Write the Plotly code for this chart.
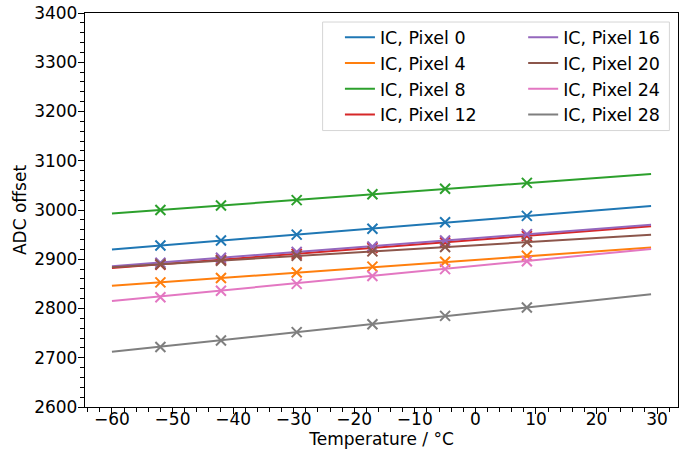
import plotly.graph_objects as go

# ---- data ----
temps = [-52, -42, -29.5, -17, -5, 8.5]          # measurement temperatures (°C)
fit_temps = [-60, 29]                             # extent of the linear fits

pixels = ["IC, Pixel 0", "IC, Pixel 4", "IC, Pixel 8", "IC, Pixel 12",
          "IC, Pixel 16", "IC, Pixel 20", "IC, Pixel 24", "IC, Pixel 28"]

pix0 = [2928, 2938, 2950, 2962, 2975, 2988]
pix4 = [2853, 2862, 2873, 2885, 2895, 2907]
pix8 = [3000, 3009, 3020, 3032, 3043, 3055]
pix12 = [2889, 2899, 2911, 2923, 2934, 2947]
pix16 = [2893, 2903, 2915, 2926, 2938, 2951]
pix20 = [2890, 2897, 2907, 2916, 2925, 2935]
pix24 = [2823, 2836, 2850, 2866, 2880, 2896]
pix28 = [2722, 2735, 2752, 2768, 2785, 2802]

fit0 = [2920, 3008]
fit4 = [2846, 2924]
fit8 = [2993, 3073]
fit12 = [2882, 2967]
fit16 = [2886, 2970]
fit20 = [2884, 2950]
fit24 = [2815, 2921]
fit28 = [2712, 2829]

measured = [pix0, pix4, pix8, pix12, pix16, pix20, pix24, pix28]
fits = [fit0, fit4, fit8, fit12, fit16, fit20, fit24, fit28]

colors = ["#1f77b4", "#ff7f0e", "#2ca02c", "#d62728",
          "#9467bd", "#8c564b", "#e377c2", "#7f7f7f"]

fig = go.Figure()
for i, (name, ys, fy, c) in enumerate(zip(pixels, measured, fits, colors)):
    fig.add_trace(go.Scatter(
        x=fit_temps, y=fy, mode="lines", name=name,
        line=dict(color=c, width=2),
        legend="legend" if i < 4 else "legend2",
    ))
    fig.add_trace(go.Scatter(
        x=temps, y=ys, mode="markers", showlegend=False,
        marker=dict(symbol="x-thin", size=10, line=dict(color=c, width=2), color=c),
    ))

axis_common = dict(
    ticks="outside", ticklen=6, tickwidth=1.4, tickcolor="black",
    showline=True, linecolor="black", linewidth=1.4, mirror=True,
    showgrid=False, zeroline=False, automargin=False,
    tickfont=dict(family="DejaVu Sans", size=17, color="black"),
)

fig.update_layout(
    width=692, height=450,
    margin=dict(l=85.4, r=14.4, t=13.3, b=43.3, autoexpand=False),
    plot_bgcolor="white", paper_bgcolor="white",
    font=dict(family="DejaVu Sans", size=17, color="black"),
    xaxis=dict(
        range=[-64.45, 33.45], tickmode="linear", tick0=0, dtick=10,
        minor=dict(dtick=2, tick0=0, ticks="outside", ticklen=3.5,
                   tickwidth=1, tickcolor="black", showgrid=False),
        ticklabelstandoff=-10,
        title=dict(text="Temperature / °C", font=dict(size=17), standoff=2),
        **axis_common,
    ),
    yaxis=dict(
        range=[2600, 3400], tickmode="linear", tick0=0, dtick=100,
        minor=dict(dtick=20, tick0=0, ticks="outside", ticklen=3.5,
                   tickwidth=1, tickcolor="black", showgrid=False),
        ticklabelstandoff=-3,
        title=dict(text="ADC offset", font=dict(size=17), standoff=3),
        **axis_common,
    ),
    legend=dict(x=0.4299, y=0.9837, xanchor="left", yanchor="top",
                bgcolor="rgba(0,0,0,0)", borderwidth=0,
                font=dict(family="DejaVu Sans", size=17.5, color="black")),
    legend2=dict(x=0.7389, y=0.9837, xanchor="left", yanchor="top",
                 bgcolor="rgba(0,0,0,0)", borderwidth=0,
                 font=dict(family="DejaVu Sans", size=17.5, color="black")),
    shapes=[dict(type="rect", xref="paper", yref="paper",
                 x0=0.4007, x1=0.9855, y0=0.7016, y1=0.9771,
                 line=dict(color="#d5d5d5", width=1),
                 fillcolor="rgba(255,255,255,0.8)", layer="above")],
)

# remove the default 8px page margin so the figure fills the window exactly
fig.write_html("out.html", config={"displayModeBar": False},
               post_script="document.body.style.margin='0';")
